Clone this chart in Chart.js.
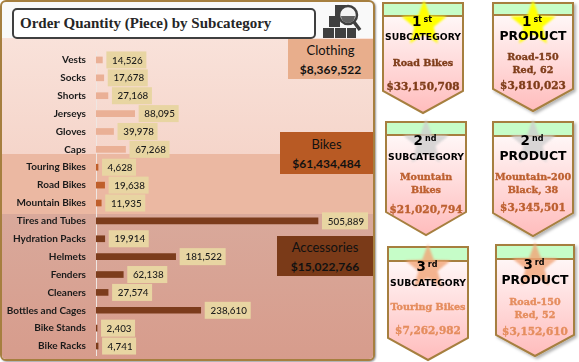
<!DOCTYPE html>
<html>
<head>
<meta charset="utf-8">
<title>Order Quantity by Subcategory</title>
<script src="https://cdn.jsdelivr.net/npm/chart.js@4"></script>
<style>
html, body { margin: 0; padding: 0; background: #fff; }
#page { position: relative; width: 579px; height: 362px; overflow: hidden; font-family: Lato, sans-serif; }
#panel { position: absolute; left: 0; top: 0; width: 371px; height: 357px; border: 2px solid #a67f3f;
  border-radius: 6px; background: #f9f9f9; overflow: hidden; box-shadow: 1px 1px 2px rgba(0,0,0,.4); }
.band { position: absolute; left: 0; width: 100%; }
#band1 { top: 36px; height: 116px; background: linear-gradient(#f9e2da, #f5d5ca); }
#band2 { top: 152px; height: 60px; background: #ebb8a2; }
#band3 { top: 212px; height: 145px; background: linear-gradient(#d9a99b, #d79c8c); }
#titleBox { position: absolute; left: 10px; top: 6px; width: 294px; height: 27px; border: 2px solid #3f3f3f; border-radius: 5px; background: #fff;
  font: bold 15px "Liberation Serif", serif; line-height: 27px; color: #262626; padding-left: 6px; }
.catBox { position: absolute; text-align: center; color: #111; font-size: 13px; box-sizing: border-box; }
.catBox b { display: block; font-size: 12px; font-weight: 700; }
#chartBox { position: absolute; left: 0; top: 45px; width: 374px; height: 316px; }
#icon, #cards { position: absolute; left: 0; top: 0; }
</style>
</head>
<body>
<div id="page">
  <div id="panel">
    <div class="band" id="band1"></div>
    <div class="band" id="band2"></div>
    <div class="band" id="band3"></div>
    <div id="titleBox"></div>
  </div>
  <svg id="icon" width="374" height="40">
    <g fill="#404040">
      <rect x="335" y="5" width="11" height="11"/>
      <rect x="329" y="16" width="11" height="11"/>
      <rect x="323" y="28" width="11" height="10"/>
      <rect x="335" y="28" width="11" height="10"/>
      <rect x="347" y="28" width="9" height="10"/>
    </g>
    <circle cx="348" cy="15" r="9" fill="#f4f4f4" stroke="#404040" stroke-width="2.5"/>
    <path d="M341 16h14a7 7 0 0 1-14 0z" fill="#606060"/>
    <line x1="354" y1="22" x2="360" y2="30" stroke="#404040" stroke-width="3.5"/>
  </svg>
  <div id="chartBox"><canvas id="grafico"></canvas></div>
  <svg id="cards" width="579" height="362"></svg>
</div>

<script>
const titulo = "Order Quantity (Piece) by Subcategory";

const subcategorias = ["Vests", "Socks", "Shorts", "Jerseys", "Gloves", "Caps",
  "Touring Bikes", "Road Bikes", "Mountain Bikes",
  "Tires and Tubes", "Hydration Packs", "Helmets", "Fenders", "Cleaners",
  "Bottles and Cages", "Bike Stands", "Bike Racks"];
const cantidades = [14526, 17678, 27168, 88095, 39978, 67268,
  4628, 19638, 11935,
  505889, 19914, 181522, 62138, 27574, 238610, 2403, 4741];
const grupoDeBarra = [0, 0, 0, 0, 0, 0, 1, 1, 1, 2, 2, 2, 2, 2, 2, 2, 2];

const grupos = ["Clothing", "Bikes", "Accessories"];
const ventasGrupo = ["$8,369,522", "$61,434,484", "$15,022,766"];
const coloresGrupo = ["#eab096", "#bf5f2b", "#7c3c1c"];
const cajasGrupo = [
  { left: 288, top: 39, width: 85, height: 40, bg: "#e8ae8c", line: 19 },
  { left: 280, top: 132, width: 93, height: 42, bg: "#b85a24", line: 20 },
  { left: 277, top: 236, width: 96, height: 40, bg: "#7a3a18", line: 19 }
];

const puestos = ["1", "1", "2", "2", "3", "3"];
const sufijos = ["st", "st", "nd", "nd", "rd", "rd"];
const tipos = ["SUBCATEGORY", "PRODUCT", "SUBCATEGORY", "PRODUCT", "SUBCATEGORY", "PRODUCT"];
const nombres = [["Road Bikes"], ["Road-150", "Red, 62"], ["Mountain", "Bikes"],
  ["Mountain-200", "Black, 38"], ["Touring Bikes"], ["Road-150", "Red, 52"]];
const ventas = ["$33,150,708", "$3,810,023", "$21,020,794", "$3,345,501", "$7,262,982", "$3,152,610"];
const coloresPuesto = { "1": "#7f3d1a", "2": "#bd6030", "3": "#e58d5e" };
const coloresEstrella = { "1": "#ffff00", "2": "#cfcfcf", "3": "#f2a578" };

// left, right, top, header bottom, shoulder, tip, rank baseline, type baseline, name baseline, sales baseline
const tarjetas = [
  [383, 463, 3, 16, 91, 113, 26, 40, 66, 90],
  [493, 573, 3, 15, 89, 111, 26, 40, 60, 89],
  [386, 466, 122, 135, 212, 235, 145, 160, 180, 213],
  [493, 573, 122, 136, 213, 236, 145, 160, 180, 211],
  [388, 468, 247, 261, 338, 360, 271, 286, 310, 334],
  [496, 574, 245, 259, 335, 356, 269, 284, 305, 335]
];

document.getElementById("titleBox").textContent = titulo;

const panel = document.getElementById("panel");
grupos.forEach((g, i) => {
  const c = cajasGrupo[i];
  const caja = document.createElement("div");
  caja.className = "catBox";
  caja.style.left = (c.left - 2) + "px";
  caja.style.top = (c.top - 2) + "px";
  caja.style.width = c.width + "px";
  caja.style.height = c.height + "px";
  caja.style.background = c.bg;
  caja.style.lineHeight = c.line + "px";
  caja.style.paddingTop = "2px";
  caja.textContent = g;
  const monto = document.createElement("b");
  monto.textContent = ventasGrupo[i];
  caja.appendChild(monto);
  panel.appendChild(caja);
});

// the six ribbon cards
const svgNS = "http://www.w3.org/2000/svg";
const svg = document.getElementById("cards");
function nodo(tag, attrs, parent, text) {
  const n = document.createElementNS(svgNS, tag);
  for (const k in attrs) n.setAttribute(k, attrs[k]);
  if (text) n.textContent = text;
  parent.appendChild(n);
  return n;
}
const defs = nodo("defs", {}, svg);
const grad = nodo("linearGradient", { id: "rosa", x1: 0, y1: 0, x2: 0, y2: 1 }, defs);
nodo("stop", { offset: "0", "stop-color": "#ffffff" }, grad);
nodo("stop", { offset: "1", "stop-color": "#ffbcbc" }, grad);
const glow = nodo("filter", { id: "glow", x: "-30%", y: "-30%", width: "160%", height: "160%" }, defs);
nodo("feGaussianBlur", { stdDeviation: "1.1" }, glow);
const sombra = nodo("filter", { id: "sombra", x: "-20%", y: "-20%", width: "140%", height: "140%" }, defs);
nodo("feDropShadow", { dx: "2", dy: "2", stdDeviation: "1.5", "flood-color": "#000", "flood-opacity": "0.3" }, sombra);

function estrella(cx, top, r) {
  const cy = top + r;
  const pts = [];
  for (let i = 0; i < 10; i++) {
    const rad = i % 2 === 0 ? r : r * 0.42;
    const a = -Math.PI / 2 + i * Math.PI / 5;
    pts.push((cx + rad * Math.cos(a)).toFixed(1) + "," + (cy + rad * Math.sin(a)).toFixed(1));
  }
  return pts.join(" ");
}

tarjetas.forEach((t, i) => {
  const [x0, x1, y0, yh, ys, yt, yPuesto, yTipo, yNombre, yVenta] = t;
  const cx = (x0 + x1) / 2;
  const p = puestos[i];
  const esProducto = tipos[i] === "PRODUCT";
  const punta = `${x0},${y0} ${x1},${y0} ${x1},${ys} ${cx},${yt} ${x0},${ys}`;
  nodo("polygon", { points: punta, fill: "url(#rosa)", stroke: "#a67f3f", "stroke-width": 2,
    filter: esProducto ? "url(#sombra)" : "none" }, svg);
  nodo("rect", { x: x0, y: y0, width: x1 - x0, height: yh - y0, fill: "#c6fdc8", stroke: "#a67f3f", "stroke-width": 2 }, svg);
  nodo("polygon", { points: estrella(cx + (i === 0 ? 1 : 0), y0 - 3, 24), fill: coloresEstrella[p],
    opacity: p === "1" ? 1 : 0.8, filter: "url(#glow)" }, svg);

  const numero = nodo("text", { x: cx - 1, y: yPuesto, "text-anchor": "middle", fill: "#000",
    style: "font: bold 13.5px 'DejaVu Sans', sans-serif" }, svg);
  nodo("tspan", {}, numero, p);
  nodo("tspan", { dx: 2, dy: -4, style: "font-size: 8px" }, numero, sufijos[i]);

  nodo("text", { x: cx, y: yTipo, "text-anchor": "middle", fill: "#000",
    textLength: esProducto ? 67 : 76, lengthAdjust: "spacingAndGlyphs",
    style: esProducto ? "font: bold 13px 'DejaVu Sans', sans-serif" : "font: bold 9.5px 'DejaVu Sans', sans-serif" }, svg, tipos[i]);

  nombres[i].forEach((l, j) => {
    nodo("text", { x: cx, y: yNombre + j * 13.3, "text-anchor": "middle", fill: coloresPuesto[p],
      stroke: coloresPuesto[p], "stroke-width": 0.35,
      style: "font: bold 9.6px 'DejaVu Serif', serif" }, svg, l);
  });
  nodo("text", { x: cx, y: yVenta, "text-anchor": "middle", fill: coloresPuesto[p],
    stroke: coloresPuesto[p], "stroke-width": 0.35,
    style: "font: bold 10.5px 'DejaVu Serif', serif" }, svg, ventas[i]);
});

// value boxes at the end of each bar
const etiquetasValor = {
  id: "etiquetasValor",
  afterDatasetsDraw(chart) {
    const ctx = chart.ctx;
    const meta = chart.getDatasetMeta(0);
    ctx.save();
    ctx.font = "500 9.8px Lato, sans-serif";
    ctx.textBaseline = "middle";
    ctx.textAlign = "center";
    meta.data.forEach((bar, i) => {
      const txt = cantidades[i].toLocaleString("en-US");
      const w = cantidades[i] >= 100000 ? 46 : cantidades[i] >= 10000 ? 40 : 34;
      const x = bar.x + 4;
      ctx.fillStyle = "#e8d5a2";
      ctx.fillRect(x, bar.y - 8.5, w, 17);
      ctx.fillStyle = "#1a1a1a";
      ctx.fillText(txt, x + w / 2 + 1, bar.y + 0.5);
    });
    ctx.restore();
  }
};

const ctx = document.getElementById("grafico").getContext("2d");
new Chart(ctx, {
  type: "bar",
  data: {
    labels: subcategorias,
    datasets: [{
      data: cantidades,
      backgroundColor: grupoDeBarra.map(g => coloresGrupo[g]),
      barThickness: 6
    }]
  },
  plugins: [etiquetasValor],
  options: {
    indexAxis: "y",
    responsive: true,
    maintainAspectRatio: false,
    animation: false,
    layout: { padding: 0 },
    plugins: { legend: { display: false }, tooltip: { enabled: false } },
    scales: {
      x: { display: false, min: 0, max: 633500 },
      y: {
        afterFit(scale) { scale.width = 96; },
        grid: { display: true, drawOnChartArea: false, drawTicks: true, tickLength: 10, tickColor: "transparent" },
        border: { display: true, color: "#efe6e2", width: 1 },
        ticks: { color: "#1a1a1a", padding: 0, autoSkip: false, font: { family: "Lato", size: 10, weight: "bold" } }
      }
    }
  }
});
</script>
</body>
</html>
